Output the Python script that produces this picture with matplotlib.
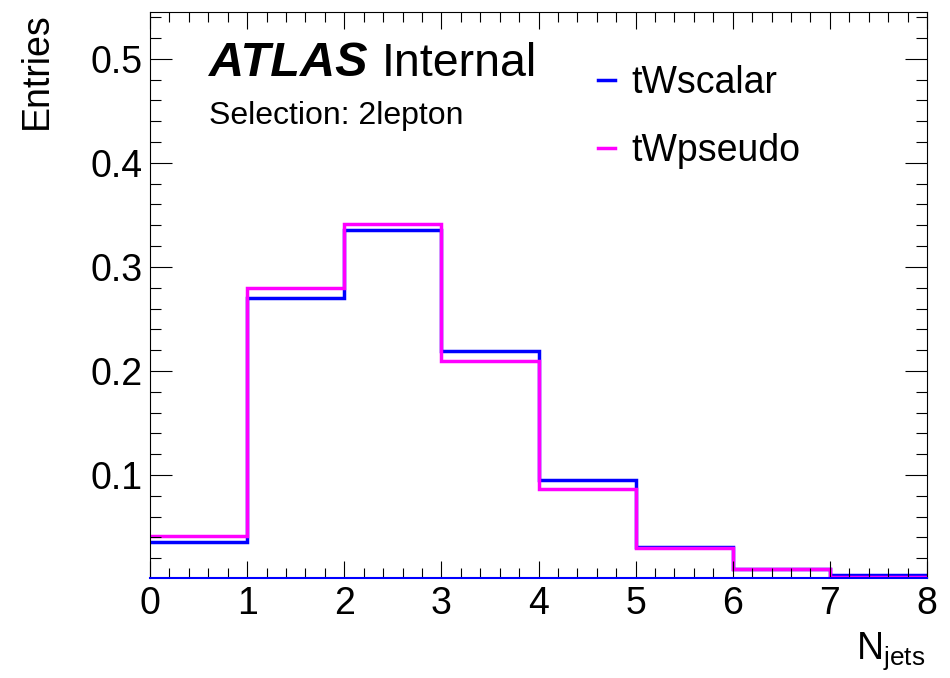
import numpy as np
import matplotlib
matplotlib.use("Agg")
from matplotlib import pyplot as plt
from matplotlib.lines import Line2D
from matplotlib.ticker import MultipleLocator

plt.rcParams['font.family'] = ['Liberation Sans', 'DejaVu Sans']
plt.rcParams['mathtext.fontset'] = 'custom'
plt.rcParams['mathtext.rm'] = 'Liberation Sans'

# N_jets bin edges and normalised entries
edges = np.arange(0, 9)
tw_scalar = [0.036, 0.270, 0.335, 0.219, 0.095, 0.031, 0.010, 0.004]
tw_pseudo = [0.041, 0.280, 0.341, 0.210, 0.087, 0.030, 0.010, 0.0017]
labels = ['tWscalar', 'tWpseudo']
colors = ['#0000ff', '#ff00ff']
y_ticks = [0.1, 0.2, 0.3, 0.4, 0.5]

W, H = 950, 678
fig = plt.figure(figsize=(W / 100, H / 100), dpi=100)
ax = fig.add_axes([150 / W, 1 - 578 / H, (927 - 150) / W, (578 - 12) / H])

ax.stairs(tw_scalar, edges, color=colors[0], lw=2.5, baseline=None)
ax.stairs(tw_pseudo, edges, color=colors[1], lw=2.5, baseline=None)

ax.set_xlim(0, 8)
ax.set_ylim(0.001, 0.545)
ax.set_yticks(y_ticks)
ax.set_yticklabels([f'{v:g}' for v in y_ticks])
ax.xaxis.set_major_locator(MultipleLocator(1))
ax.xaxis.set_minor_locator(MultipleLocator(0.2))
ax.yaxis.set_minor_locator(MultipleLocator(0.02))

ax.tick_params(which='both', direction='in', top=True, right=True, width=0.8)
ax.tick_params(axis='x', which='major', length=12, pad=6, labelsize=27)
ax.tick_params(axis='x', which='minor', length=7)
ax.tick_params(axis='y', which='major', length=16, pad=5, labelsize=27)
ax.tick_params(axis='y', which='minor', length=8)
for s in ax.spines.values():
    s.set_linewidth(0.8)
ax.spines['bottom'].set_color(colors[0])
ax.spines['bottom'].set_linewidth(1.5)

# axis titles, ROOT style
fig.text(37 / W, 1 - 12 / H, 'Entries', rotation=90, ha='center', va='top', fontsize=27)
fig.text(925 / W, 1 - 659 / H, r'N$_{\mathrm{jets}}$', ha='right', va='baseline', fontsize=27)

# ATLAS label
fig.text(209 / W, 1 - 76 / H, 'ATLAS', fontsize=35, fontweight='bold', fontstyle='italic', va='baseline')
fig.text(382 / W, 1 - 76 / H, 'Internal', fontsize=33.5, va='baseline')
fig.text(209 / W, 1 - 124 / H, 'Selection: 2lepton', fontsize=23, va='baseline')

handles = [Line2D([], [], color=c, lw=2.5) for c in colors]
ax.legend(handles, labels, loc='upper left', bbox_to_anchor=(579 / W, 1 - 46 / H),
          bbox_transform=fig.transFigure, frameon=False, fontsize=27,
          handlelength=0.46, handletextpad=0.44, labelspacing=0.85, borderpad=0)

fig.savefig('out.png', dpi=100)
